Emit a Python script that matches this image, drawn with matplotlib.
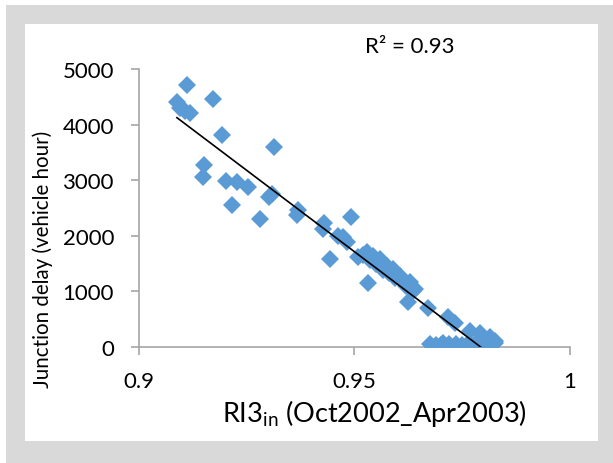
import numpy as np
import matplotlib.pyplot as plt
from matplotlib.patches import Rectangle

plt.rcParams['font.family'] = ['Lato', 'DejaVu Sans']
plt.rcParams['mathtext.fontset'] = 'custom'
plt.rcParams['mathtext.rm'] = 'Lato'
plt.rcParams['mathtext.it'] = 'Lato:italic'

# ---- Observations: RI3_in vs junction delay ----
ri3 = [0.9088, 0.9095, 0.9107, 0.9118, 0.9111, 0.9171, 0.9193, 0.9313, 0.9150,
       0.9148, 0.9203, 0.9227, 0.9253, 0.9215, 0.9281, 0.9308, 0.9302, 0.9369,
       0.9366, 0.9429, 0.9426, 0.9493, 0.9462, 0.9474, 0.9482, 0.9443, 0.9508,
       0.9528, 0.9543, 0.9531, 0.9559, 0.9575, 0.9589, 0.9606, 0.9629, 0.9641,
       0.9624, 0.9671, 0.9717, 0.9733, 0.9768, 0.9791, 0.9814, 0.9826,
       0.9520, 0.9535, 0.9550, 0.9560, 0.9565, 0.9580, 0.9595, 0.9612, 0.9620,
       0.9635,
       0.9675, 0.9690, 0.9705, 0.9720, 0.9735, 0.9750, 0.9765, 0.9780, 0.9795,
       0.9810, 0.9825, 0.9700, 0.9760]
delay = [4400, 4300, 4240, 4200, 4720, 4460, 3810, 3590, 3280,
         3050, 2980, 2960, 2880, 2560, 2310, 2760, 2700, 2460,
         2380, 2230, 2120, 2340, 2000, 1980, 1880, 1590, 1610,
         1700, 1640, 1160, 1580, 1460, 1400, 1280, 1170, 1040,
         810, 710, 540, 440, 290, 260, 180, 110,
         1650, 1560, 1500, 1520, 1380, 1330, 1250, 1180, 1100,
         1000,
         60, 40, 70, 50, 60, 40, 70, 50, 80,
         60, 70, 30, 30]
r2_label = 'R² = 0.93'

x = np.array(ri3)
y = np.array(delay)
slope, intercept = np.polyfit(x, y, 1)
xf = np.array([x.min(), x.max()])

fig = plt.figure(figsize=(6.13, 4.64), dpi=100)
# grey frame around the white plot area
fig.patches.append(Rectangle((6 / 613, 0), 1, 1 - 6 / 464, transform=fig.transFigure,
                             facecolor='#d9d9d9', edgecolor='none', zorder=-2))
fig.patches.append(Rectangle((25 / 613, 22 / 464), (598 - 25) / 613, 417 / 464,
                             transform=fig.transFigure, facecolor='white',
                             edgecolor='none', zorder=-1))

ax = fig.add_axes([139 / 613, 116 / 464, 431 / 613, 278 / 464])
ax.patch.set_alpha(0)
ax.plot(x, y, 'D', color='#5b9bd5', ms=9, mew=0, zorder=3)
ax.plot(xf, slope * xf + intercept, color='black', lw=1.2, zorder=4)

ax.set_xlim(0.9, 1.0)
ax.set_ylim(0, 5000)
ax.set_xticks([0.9, 0.95, 1.0])
ax.set_xticklabels(['0.9', '0.95', '1'])
ax.set_yticks(range(0, 5001, 1000))
for s in ['top', 'right']:
    ax.spines[s].set_visible(False)
for s in ['left', 'bottom']:
    ax.spines[s].set_color('#a6a6a6')
    ax.spines[s].set_linewidth(1.2)
ax.tick_params(colors='#a6a6a6', labelcolor='black', labelsize=16, length=6, width=1.2)
ax.tick_params(axis='x', pad=11)
ax.tick_params(axis='y', pad=12)

ax.set_xlabel('RI3$_{\\mathrm{in}}$ (Oct2002_Apr2003)', fontsize=19.5, va='center')
ax.xaxis.set_label_coords(0.546, -0.234)
ax.set_ylabel('Junction delay (vehicle hour)', fontsize=14.8, va='center')
ax.yaxis.set_label_coords(-0.223, 0.32)
fig.text(410 / 613, 1 - 47 / 464, r2_label, fontsize=16, ha='center', va='center')

plt.savefig('out.png', dpi=100)
